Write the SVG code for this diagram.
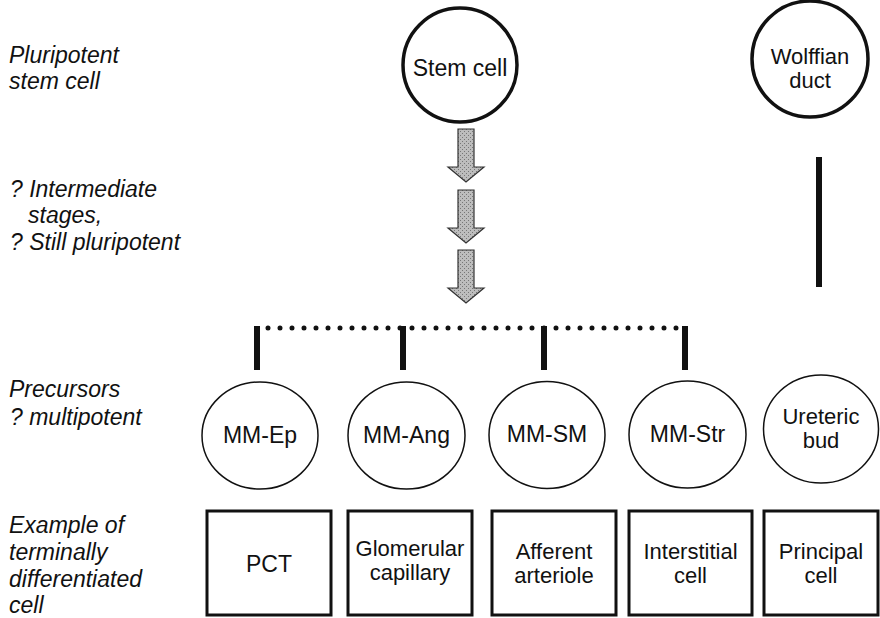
<svg xmlns="http://www.w3.org/2000/svg" width="880" height="618" viewBox="0 0 880 618">
<style>
.lbl{font-family:"Liberation Sans",Arial,sans-serif;font-size:23px;font-style:italic;fill:#111}
.t{font-family:"Liberation Sans",Arial,sans-serif;font-size:23px;fill:#111;text-anchor:middle}
.t2{font-size:22px}
.big{fill:#fff;stroke:#111;stroke-width:3.5}
.ell{fill:#fff;stroke:#111;stroke-width:1.5}
.box{fill:#fff;stroke:#111;stroke-width:3}
.bar{stroke:#111;stroke-width:6}
</style>
<defs>
<pattern id="stip" width="4" height="4" patternUnits="userSpaceOnUse">
<rect width="4" height="4" fill="#bdbdbd"/>
<rect x="0" y="0" width="1" height="1" fill="#777"/>
<rect x="2" y="2" width="1" height="1" fill="#777"/>
</pattern>
<path id="ar" d="M-8,0 H8 V38 H18 L0,53 L-18,38 H-8 Z"/>
</defs>

<g id="labels">
<text class="lbl" x="9" y="63">Pluripotent</text>
<text class="lbl" x="9" y="89">stem cell</text>
<text class="lbl" x="10" y="197">? Intermediate</text>
<text class="lbl" x="28" y="223">stages,</text>
<text class="lbl" x="10" y="250">? Still pluripotent</text>
<text class="lbl" x="9" y="397">Precursors</text>
<text class="lbl" x="10" y="425">? multipotent</text>
<text class="lbl" x="9" y="533">Example of</text>
<text class="lbl" x="9" y="560">terminally</text>
<text class="lbl" x="9" y="587">differentiated</text>
<text class="lbl" x="9" y="613">cell</text>
</g>

<g id="connectors">
<use href="#ar" x="466" y="129" fill="url(#stip)" stroke="#333" stroke-width="1.2"/>
<use href="#ar" x="466" y="190" fill="url(#stip)" stroke="#333" stroke-width="1.2"/>
<use href="#ar" x="466" y="250" fill="url(#stip)" stroke="#333" stroke-width="1.2"/>
<line x1="268" y1="328" x2="678" y2="328" stroke="#111" stroke-width="5" stroke-linecap="round" stroke-dasharray="0 12"/>
<line class="bar" x1="257" y1="326" x2="257" y2="370"/>
<line class="bar" x1="403" y1="326" x2="403" y2="370"/>
<line class="bar" x1="544" y1="326" x2="544" y2="370"/>
<line class="bar" x1="685" y1="326" x2="685" y2="370"/>
<line class="bar" x1="819" y1="157" x2="819" y2="287"/>
</g>

<g id="stem-cell">
<circle class="big" cx="460" cy="65" r="57"/>
<text class="t" x="460" y="76">Stem cell</text>
</g>
<g id="wolffian-duct">
<circle class="big" cx="810" cy="59" r="58"/>
<text class="t t2" x="810" y="64">Wolffian</text>
<text class="t t2" x="810" y="88">duct</text>
</g>

<g id="mm-ep">
<ellipse class="ell" cx="260" cy="435.5" rx="58" ry="53.5"/>
<text class="t" x="260" y="443">MM-Ep</text>
</g>
<g id="mm-ang">
<ellipse class="ell" cx="406.5" cy="435.5" rx="58.5" ry="53.5"/>
<text class="t" x="406.5" y="443">MM-Ang</text>
</g>
<g id="mm-sm">
<ellipse class="ell" cx="547" cy="435" rx="58" ry="53.5"/>
<text class="t" x="547" y="442">MM-SM</text>
</g>
<g id="mm-str">
<ellipse class="ell" cx="687.5" cy="434.5" rx="58.5" ry="53.5"/>
<text class="t" x="687.5" y="442">MM-Str</text>
</g>
<g id="ureteric-bud">
<ellipse class="ell" cx="821" cy="429" rx="57.5" ry="54"/>
<text class="t t2" x="821" y="424">Ureteric</text>
<text class="t t2" x="821" y="448">bud</text>
</g>

<g id="pct">
<rect class="box" x="207" y="511" width="124" height="104"/>
<text class="t" x="269" y="572">PCT</text>
</g>
<g id="glomerular-capillary">
<rect class="box" x="348" y="511" width="124" height="104"/>
<text class="t t2" x="410" y="556">Glomerular</text>
<text class="t t2" x="410" y="580">capillary</text>
</g>
<g id="afferent-arteriole">
<rect class="box" x="492" y="511" width="124" height="104"/>
<text class="t t2" x="554" y="559">Afferent</text>
<text class="t t2" x="554" y="583">arteriole</text>
</g>
<g id="interstitial-cell">
<rect class="box" x="629" y="511" width="123" height="104"/>
<text class="t t2" x="690.5" y="559">Interstitial</text>
<text class="t t2" x="690.5" y="583">cell</text>
</g>
<g id="principal-cell">
<rect class="box" x="764" y="511" width="114" height="104"/>
<text class="t t2" x="821" y="559">Principal</text>
<text class="t t2" x="821" y="583">cell</text>
</g>
</svg>
